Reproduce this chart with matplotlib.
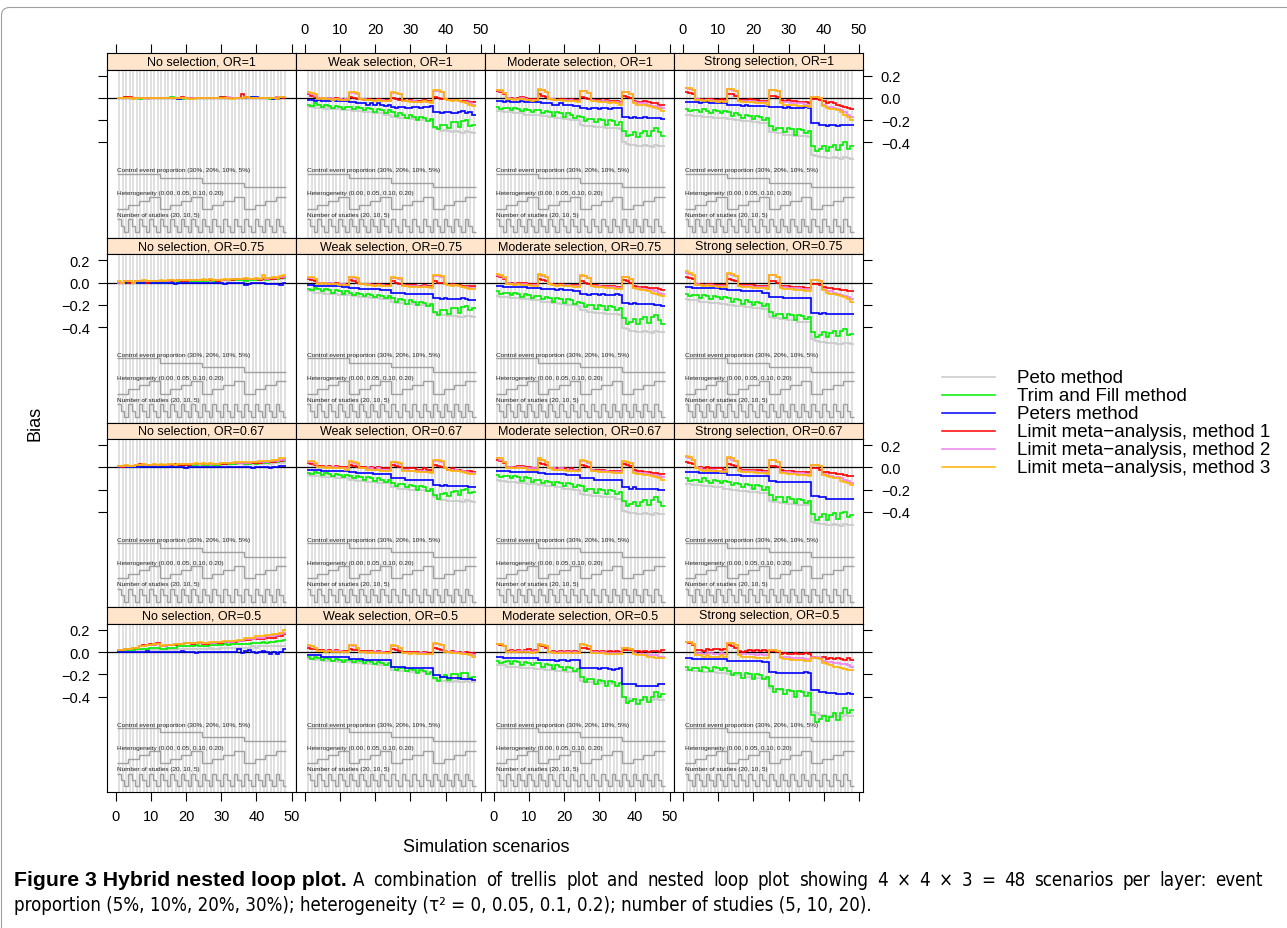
import numpy as np
import matplotlib.pyplot as plt
from matplotlib import font_manager
from matplotlib.patches import FancyBboxPatch
from matplotlib.lines import Line2D

plt.rcParams['font.family'] = ['Liberation Sans', 'DejaVu Sans']

# design of the simulation (nested loops)
selections = ['No selection', 'Weak selection', 'Moderate selection', 'Strong selection']
odds_ratios = ['1', '0.75', '0.67', '0.5']
event_prop = [30, 20, 10, 5]
heterogeneity = [0.00, 0.05, 0.10, 0.20]
n_studies = [20, 10, 5]

methods = ['Peto method', 'Trim and Fill method', 'Peters method',
           'Limit meta\u2212analysis, method 1', 'Limit meta\u2212analysis, method 2',
           'Limit meta\u2212analysis, method 3']
colors = ['#C8C8C8', '#00EE00', '#0000FF', '#FF0000', '#EE82EE', '#FFB400']

xticks = [0, 10, 20, 30, 40, 50]
yticks = [0.2, 0.0, -0.2, -0.4]

# bias in hundredths, one row per method (order as in methods), 48 scenarios each
no_or1 = [
    [0,0,0,0,0,0,0,0,-1,0,0,0, 0,0,0,0,-1,0,0,0,0,0,0,0, 0,0,0,0,0,0,0,-1,0,0,0,0, 0,0,0,0,0,-1,0,0,0,0,0,0],
    [0,0,1,0,0,0,-1,0,0,0,0,0, 0,0,0,1,0,0,-1,0,0,0,0,0, 0,0,0,0,0,1,0,0,0,0,0,0, 0,0,1,0,0,0,0,-1,0,0,0,0],
    [0,0,0,0,0,0,0,0,0,0,0,0, 0,0,0,0,0,-1,0,0,0,0,0,0, 0,0,0,0,0,0,0,0,0,0,0,0, 0,0,1,1,0,0,0,0,-1,-1,0,0],
    [0,0,1,1,0,0,0,0,0,0,0,0, 0,0,0,0,0,0,1,0,0,0,0,0, 0,0,0,0,0,1,1,0,0,0,0,3, 1,0,0,0,0,0,0,0,0,1,1,0],
    [0,0,0,0,0,0,0,0,-1,0,0,0, 0,0,0,0,0,0,0,0,0,0,0,0, 0,0,0,0,0,0,0,1,0,0,0,0, 0,0,0,0,0,0,0,0,0,1,1,1],
    [0,0,0,0,-1,0,0,0,0,0,0,0, 0,0,0,0,0,0,0,0,-1,-1,0,0, 0,0,0,0,0,0,0,0,-1,0,0,0, 1,0,0,0,0,0,0,0,0,-1,1,1],
]
weak_or1 = [
    [-8,-8,-9,-9,-9,-10,-9,-10,-10,-10,-11,-11, -11,-12,-12,-12,-13,-13,-13,-14,-14,-14,-15,-15, -17,-17,-18,-18,-18,-19,-19,-19,-20,-19,-20,-20, -27,-28,-30,-29,-30,-31,-30,-31,-32,-30,-31,-32],
    [-6,-7,-5,-6,-8,-6,-7,-9,-7,-8,-10,-8, -8,-10,-8,-9,-11,-9,-10,-13,-10,-11,-14,-11, -13,-16,-14,-15,-18,-15,-17,-20,-17,-18,-21,-19, -26,-28,-24,-24,-27,-22,-22,-26,-21,-20,-25,-24],
    [-2,-2,-3,-2,-3,-3,-3,-2,-3,-3,-3,-3, -4,-4,-5,-5,-5,-6,-5,-6,-5,-6,-7,-6, -8,-9,-8,-8,-9,-9,-8,-8,-9,-8,-8,-7, -13,-13,-14,-13,-13,-14,-14,-13,-12,-14,-13,-15],
    [3,2,1,0,0,-1,0,-1,0,-1,-1,-1, 1,0,-1,-1,-2,-1,-2,-2,-1,-2,-2,-3, 0,-1,-2,-2,-3,-2,-3,-3,-3,-2,-3,-3, 1,0,-1,-1,-2,-2,-2,-3,-3,-3,-4,-4],
    [4,3,2,0,0,-1,0,-1,-1,-1,-2,-1, 4,4,3,-1,-1,-2,-2,-2,-2,-2,-3,-3, 4,4,3,-3,-3,-3,-3,-4,-4,-3,-4,-4, 6,6,5,-1,-2,-2,-2,-3,-4,-4,-5,-6],
    [5,4,3,-1,0,-1,-1,-2,-1,-2,-2,-2, 5,5,4,-1,-2,-2,-2,-3,-2,-3,-3,-3, 5,4,3,-3,-3,-4,-4,-4,-4,-3,-4,-5, 7,7,5,-1,-2,-3,-2,-3,-4,-5,-6,-7],
]
mod_or1 = [
    [-12,-12,-13,-13,-13,-14,-14,-14,-15,-15,-15,-15, -15,-16,-16,-17,-17,-18,-18,-19,-19,-20,-20,-20, -24,-25,-25,-25,-26,-26,-26,-27,-27,-27,-27,-28, -40,-41,-42,-42,-43,-43,-42,-43,-44,-42,-43,-43],
    [-8,-10,-9,-9,-11,-9,-10,-12,-10,-11,-13,-11, -11,-14,-12,-13,-16,-13,-14,-17,-14,-15,-18,-16, -17,-21,-19,-19,-22,-19,-20,-24,-20,-21,-24,-22, -30,-34,-33,-31,-35,-32,-30,-34,-30,-27,-31,-34],
    [-3,-3,-4,-3,-4,-4,-4,-3,-4,-4,-4,-4, -4,-5,-5,-5,-6,-6,-5,-6,-6,-6,-7,-7, -9,-9,-10,-9,-9,-10,-9,-9,-10,-9,-9,-9, -17,-17,-18,-17,-18,-18,-17,-18,-18,-18,-18,-19],
    [6,5,3,0,0,-1,0,1,0,-1,-1,-1, 3,2,1,-1,-1,-2,-1,-1,-2,-1,-2,-2, 1,0,-1,-2,-2,-2,-3,-2,-3,-3,-3,-4, 2,1,0,-3,-4,-4,-3,-4,-5,-5,-6,-6],
    [7,6,4,0,-1,-1,-1,0,-1,-2,-2,-2, 7,7,5,-1,-1,-2,-2,-2,-2,-2,-3,-3, 6,6,4,-2,-3,-3,-3,-3,-4,-4,-4,-5, 5,5,3,-4,-5,-5,-5,-6,-7,-7,-8,-9],
    [7,7,4,-1,-1,-2,-1,-1,-2,-2,-3,-2, 8,7,5,-1,-2,-2,-2,-3,-3,-3,-3,-4, 6,6,4,-3,-3,-4,-4,-4,-5,-4,-5,-6, 5,5,3,-5,-6,-6,-6,-7,-8,-9,-10,-12],
]
strong_or1 = [
    [-15,-15,-16,-16,-16,-17,-17,-17,-18,-18,-18,-18, -19,-19,-20,-20,-21,-21,-21,-22,-22,-23,-23,-23, -31,-31,-32,-32,-33,-33,-33,-34,-34,-34,-34,-35, -51,-52,-53,-53,-54,-54,-53,-54,-55,-53,-54,-55],
    [-10,-12,-11,-11,-13,-10,-12,-14,-11,-12,-14,-12, -13,-16,-14,-15,-18,-15,-16,-19,-16,-17,-20,-18, -25,-29,-27,-27,-31,-27,-28,-33,-28,-29,-32,-30, -43,-48,-46,-43,-48,-44,-42,-47,-42,-40,-46,-43],
    [-4,-4,-4,-4,-5,-4,-4,-5,-5,-5,-5,-5, -6,-6,-6,-6,-7,-6,-7,-7,-7,-7,-7,-7, -8,-8,-8,-8,-9,-8,-9,-9,-9,-9,-8,-9, -23,-23,-24,-24,-25,-24,-24,-25,-24,-24,-24,-24],
    [5,4,3,-1,-1,-2,-1,-1,-2,-2,-1,-2, 3,3,2,-2,-2,-2,-1,-2,-2,-3,-3,-3, 2,2,1,-2,-3,-2,-3,-3,-4,-4,-4,-5, -1,-1,-2,-3,-5,-4,-5,-6,-7,-8,-9,-10],
    [9,8,7,-1,-2,-2,-2,-2,-3,-3,-3,-3, 8,7,6,-3,-3,-3,-3,-3,-4,-4,-4,-4, 7,7,6,-4,-4,-4,-5,-5,-5,-5,-6,-6, 1,1,0,-6,-8,-8,-9,-10,-11,-13,-15,-17],
    [9,9,7,-2,-2,-3,-2,-3,-3,-4,-3,-4, 8,8,6,-3,-4,-4,-4,-4,-5,-5,-5,-6, 7,7,6,-5,-6,-6,-6,-6,-7,-7,-7,-8, 1,1,0,-7,-9,-10,-10,-11,-13,-15,-17,-20],
]
no_or075 = [
    [0,0,0,0,0,0,1,0,0,1,1,1, 0,0,1,1,0,1,1,1,1,1,1,1, 1,1,1,1,1,1,2,1,2,2,2,2, 1,2,2,2,2,2,3,2,3,3,3,3],
    [0,0,0,0,0,0,1,0,0,1,0,1, 0,0,1,1,0,1,1,1,1,1,1,1, 1,1,2,1,1,2,2,2,2,2,2,2, 1,2,2,2,2,3,2,3,3,3,4,4],
    [0,0,0,0,0,0,0,0,0,0,0,0, 0,0,0,0,-1,0,0,0,0,0,0,0, 0,0,0,0,0,0,-1,0,0,0,0,0, -2,-1,0,0,0,0,-1,-1,-1,-1,-2,0],
    [0,0,1,0,0,1,1,1,0,1,1,1, 1,1,1,1,1,2,1,1,2,2,2,2, 2,2,2,2,1,2,2,2,2,3,3,3, 3,3,3,3,2,3,3,3,3,4,4,5],
    [0,0,1,1,0,1,1,1,1,1,1,1, 1,1,1,2,1,2,2,2,2,2,2,2, 2,2,3,2,2,2,2,2,3,3,3,3, 3,3,3,3,3,4,3,4,4,4,5,5],
    [1,0,1,1,0,1,1,2,1,1,1,1, 2,1,2,2,1,2,2,2,2,2,2,2, 3,2,3,2,2,2,3,2,3,3,3,3, 4,3,3,4,3,7,4,4,5,4,6,7],
]
weak_or075 = [
    [-8,-8,-9,-9,-9,-10,-10,-10,-10,-11,-11,-11, -11,-12,-12,-13,-13,-13,-14,-14,-14,-15,-15,-15, -17,-18,-18,-18,-19,-19,-19,-20,-20,-20,-20,-21, -27,-28,-29,-29,-30,-30,-30,-31,-31,-30,-30,-31],
    [-6,-7,-5,-6,-8,-6,-7,-9,-7,-8,-10,-8, -9,-11,-9,-10,-12,-10,-11,-13,-11,-12,-14,-12, -14,-17,-15,-16,-19,-16,-17,-20,-17,-18,-21,-19, -26,-29,-25,-25,-28,-23,-23,-27,-22,-21,-25,-23],
    [-2,-2,-3,-3,-3,-3,-3,-3,-3,-3,-4,-4, -5,-5,-5,-6,-6,-6,-6,-6,-6,-7,-7,-7, -9,-9,-9,-9,-10,-10,-10,-10,-10,-10,-10,-10, -14,-14,-15,-14,-15,-15,-15,-15,-14,-15,-16,-16],
    [3,2,1,0,0,-1,0,-1,0,-1,-1,-1, 2,1,0,-1,-1,-1,-1,-2,-1,-2,-2,-2, 1,0,-1,-2,-2,-2,-2,-3,-3,-2,-3,-3, 1,0,0,-1,-2,-1,-2,-2,-3,-3,-3,-3],
    [4,4,3,0,0,-1,0,-1,-1,-1,-1,-2, 5,4,3,-1,-1,-1,-2,-2,-2,-2,-3,-3, 4,4,3,-2,-3,-3,-3,-3,-4,-3,-4,-4, 6,6,5,-1,-2,-2,-2,-3,-4,-4,-5,-5],
    [5,5,3,-1,0,-1,-1,-1,-1,-2,-2,-2, 5,5,4,-1,-1,-2,-2,-3,-2,-3,-3,-3, 5,4,4,-3,-3,-4,-4,-4,-4,-4,-4,-5, 7,7,6,-1,-2,-3,-2,-3,-4,-5,-6,-6],
]
mod_or075 = [
    [-12,-13,-13,-13,-14,-14,-14,-15,-15,-15,-16,-16, -16,-17,-17,-17,-18,-18,-19,-19,-20,-20,-20,-21, -25,-25,-26,-26,-27,-27,-27,-28,-28,-28,-28,-29, -41,-42,-43,-43,-44,-44,-43,-44,-45,-43,-44,-44],
    [-8,-10,-9,-9,-11,-9,-10,-13,-10,-11,-14,-12, -12,-15,-13,-14,-17,-14,-15,-18,-15,-16,-19,-17, -18,-22,-20,-20,-24,-20,-21,-25,-21,-22,-25,-23, -32,-37,-35,-33,-37,-33,-31,-36,-31,-29,-34,-37],
    [-3,-3,-4,-4,-4,-4,-4,-4,-4,-5,-5,-5, -5,-6,-6,-6,-6,-7,-6,-7,-7,-7,-8,-8, -10,-10,-11,-10,-10,-11,-10,-11,-11,-11,-10,-11, -18,-18,-19,-18,-19,-19,-19,-19,-19,-20,-20,-21],
    [6,5,3,0,0,-1,0,0,0,-1,-1,-1, 3,2,1,-1,-1,-2,-1,-2,-2,-2,-2,-2, 1,0,-1,-2,-2,-3,-3,-3,-3,-3,-4,-4, 2,1,0,-3,-4,-4,-4,-5,-5,-5,-6,-7],
    [7,6,4,0,-1,-1,-1,-1,-1,-2,-2,-2, 7,6,5,-1,-2,-2,-2,-2,-2,-3,-3,-3, 6,6,4,-3,-3,-3,-4,-4,-4,-4,-5,-5, 5,5,3,-5,-5,-6,-6,-7,-7,-8,-9,-10],
    [8,7,5,-1,-1,-2,-1,-2,-2,-2,-3,-3, 8,7,5,-1,-2,-3,-2,-3,-3,-3,-4,-4, 7,6,4,-3,-4,-4,-4,-5,-5,-5,-6,-6, 5,5,3,-5,-6,-7,-7,-8,-9,-10,-11,-12],
]
strong_or075 = [
    [-15,-16,-16,-16,-17,-17,-17,-18,-18,-18,-19,-19, -20,-20,-21,-21,-21,-22,-22,-23,-23,-23,-24,-24, -31,-32,-32,-33,-33,-34,-34,-34,-35,-35,-35,-35, -51,-52,-53,-53,-54,-54,-54,-55,-55,-54,-54,-55],
    [-10,-12,-11,-11,-14,-11,-12,-15,-12,-13,-15,-13, -14,-17,-15,-16,-19,-16,-17,-20,-17,-18,-21,-19, -26,-30,-28,-28,-32,-28,-29,-34,-29,-30,-33,-31, -44,-49,-47,-44,-49,-45,-43,-48,-43,-42,-47,-46],
    [-4,-4,-5,-5,-5,-5,-5,-5,-5,-5,-6,-6, -7,-7,-7,-7,-8,-8,-8,-8,-8,-8,-9,-9, -13,-13,-13,-13,-14,-14,-14,-14,-14,-14,-14,-14, -27,-27,-28,-27,-28,-28,-28,-28,-28,-28,-28,-28],
    [5,4,3,-1,-1,-2,-1,-1,-2,-2,-2,-2, 3,2,1,-2,-2,-2,-2,-2,-3,-3,-3,-3, 1,1,0,-3,-3,-3,-4,-4,-4,-4,-5,-5, -1,-1,-2,-4,-5,-5,-6,-6,-7,-7,-8,-8],
    [9,8,7,-1,-2,-2,-2,-2,-3,-3,-3,-3, 8,7,6,-3,-3,-3,-3,-4,-4,-4,-4,-4, 7,7,5,-4,-4,-5,-5,-5,-5,-6,-6,-6, 2,2,1,-6,-8,-8,-9,-10,-11,-12,-13,-15],
    [10,9,7,-2,-2,-3,-2,-3,-3,-4,-4,-4, 9,8,6,-3,-4,-4,-4,-5,-5,-5,-5,-6, 7,7,5,-5,-6,-6,-6,-7,-7,-7,-8,-8, 2,2,1,-7,-9,-10,-10,-11,-12,-13,-15,-17],
]
no_or067 = [
    [0,0,0,0,1,0,1,1,1,1,1,1, 1,1,1,1,1,1,2,1,2,2,2,2, 2,2,2,2,2,2,3,2,3,3,3,3, 2,3,3,3,3,3,4,3,4,4,4,4],
    [0,0,1,0,1,1,1,1,1,1,1,2, 1,1,2,1,1,2,2,2,2,2,2,3, 2,2,3,2,2,3,3,3,3,3,4,4, 3,3,4,3,4,4,4,5,5,5,6,6],
    [0,0,0,0,0,0,0,0,0,0,0,0, 0,0,0,0,0,0,0,-1,0,0,0,0, 0,0,0,0,0,0,0,0,0,0,0,0, 0,0,-1,0,0,0,0,-1,0,0,1,1],
    [1,0,1,1,1,2,3,2,2,2,2,2, 2,2,2,2,3,2,2,2,2,3,3,3, 3,3,3,3,3,3,3,4,4,4,4,4, 4,4,4,4,4,5,5,5,5,6,6,7],
    [1,1,1,1,1,2,2,2,2,2,2,2, 2,2,2,3,2,3,3,3,3,3,3,3, 3,3,3,3,3,4,4,4,4,4,4,4, 4,4,5,5,5,5,5,6,6,6,7,7],
    [1,1,2,1,1,2,2,3,2,2,3,2, 3,2,3,3,2,3,3,3,3,3,4,3, 4,3,4,3,3,4,4,4,4,5,5,5, 5,5,5,5,6,6,6,6,7,7,8,8],
]
weak_or067 = [
    [-7,-8,-8,-8,-9,-9,-9,-9,-10,-10,-10,-10, -11,-11,-12,-12,-12,-13,-13,-13,-14,-14,-14,-14, -18,-18,-19,-19,-19,-20,-20,-20,-20,-20,-21,-21, -27,-28,-29,-29,-30,-30,-30,-30,-31,-29,-30,-31],
    [-5,-6,-4,-5,-7,-5,-6,-8,-6,-7,-9,-7, -8,-10,-8,-9,-11,-9,-10,-12,-10,-11,-13,-11, -14,-17,-15,-15,-18,-16,-17,-20,-17,-18,-21,-19, -25,-28,-24,-23,-26,-22,-21,-25,-20,-19,-23,-22],
    [-2,-2,-2,-2,-3,-3,-3,-3,-3,-3,-3,-3, -4,-4,-5,-5,-5,-5,-5,-6,-6,-6,-6,-6, -10,-10,-10,-10,-11,-11,-11,-11,-11,-11,-11,-11, -16,-16,-17,-16,-17,-17,-17,-17,-17,-17,-18,-18],
    [4,3,2,1,1,0,1,0,1,0,0,0, 2,1,0,0,0,-1,0,-1,0,-1,-1,-1, 2,1,0,-1,-1,-1,-1,-2,-2,-1,-2,-2, 2,1,0,-1,-2,-1,-2,-2,-3,-3,-3,-4],
    [5,5,3,0,0,0,0,0,0,-1,-1,-1, 5,4,3,-1,-1,-1,-1,-2,-1,-2,-2,-2, 5,4,3,-2,-2,-3,-3,-3,-3,-3,-4,-4, 6,6,5,-1,-2,-2,-2,-3,-3,-4,-5,-5],
    [6,6,4,0,0,-1,0,-1,-1,-1,-1,-2, 6,5,4,-1,-1,-2,-2,-2,-2,-3,-3,-3, 5,5,4,-3,-3,-3,-3,-4,-4,-4,-4,-5, 7,7,6,-1,-2,-3,-3,-3,-4,-5,-6,-6],
]
mod_or067 = [
    [-11,-12,-12,-13,-13,-13,-14,-14,-14,-15,-15,-15, -16,-16,-17,-17,-17,-18,-18,-19,-19,-19,-20,-20, -24,-25,-25,-26,-26,-26,-27,-27,-27,-27,-28,-28, -39,-40,-41,-41,-42,-42,-41,-42,-43,-41,-42,-42],
    [-7,-9,-8,-8,-10,-8,-9,-12,-9,-10,-13,-11, -11,-14,-12,-13,-16,-13,-14,-17,-14,-15,-18,-16, -17,-21,-19,-19,-23,-19,-20,-24,-20,-21,-24,-22, -30,-35,-33,-31,-35,-31,-29,-34,-29,-27,-31,-35],
    [-3,-3,-3,-3,-4,-4,-4,-4,-4,-4,-4,-4, -5,-5,-6,-6,-6,-6,-6,-6,-7,-7,-7,-7, -10,-10,-10,-10,-11,-11,-11,-11,-11,-11,-11,-11, -18,-18,-19,-18,-19,-19,-19,-19,-19,-19,-20,-20],
    [7,6,4,0,0,0,1,1,0,0,-1,-1, 4,3,2,-1,-1,-1,-1,-1,-2,-1,-2,-2, 2,1,0,-2,-2,-2,-2,-3,-3,-3,-3,-3, 3,2,1,-2,-3,-3,-4,-4,-5,-5,-6,-6],
    [8,7,5,0,0,-1,0,0,-1,-1,-1,-1, 7,7,5,-1,-1,-2,-1,-2,-2,-2,-2,-3, 6,6,4,-2,-3,-3,-3,-3,-4,-4,-4,-4, 5,5,4,-4,-5,-5,-5,-6,-7,-7,-8,-9],
    [8,8,5,-1,-1,-1,-1,-1,-1,-2,-2,-2, 8,7,5,-1,-2,-2,-2,-2,-3,-3,-3,-3, 7,6,5,-3,-3,-4,-4,-4,-4,-5,-5,-5, 6,5,4,-5,-6,-6,-7,-7,-8,-9,-10,-11],
]
strong_or067 = [
    [-15,-15,-16,-16,-16,-17,-17,-17,-18,-18,-18,-19, -19,-20,-20,-21,-21,-21,-22,-22,-22,-23,-23,-23, -30,-31,-31,-32,-32,-33,-33,-33,-34,-34,-34,-34, -49,-50,-51,-51,-52,-52,-51,-52,-53,-51,-52,-52],
    [-10,-12,-11,-11,-13,-10,-12,-14,-11,-12,-14,-12, -13,-16,-14,-15,-18,-15,-16,-19,-16,-17,-20,-18, -25,-29,-27,-27,-31,-27,-28,-32,-28,-29,-32,-30, -42,-47,-45,-42,-47,-43,-41,-46,-41,-40,-45,-43],
    [-4,-4,-4,-4,-5,-5,-5,-5,-5,-5,-5,-5, -7,-7,-7,-7,-8,-8,-8,-8,-8,-8,-8,-8, -12,-12,-13,-13,-13,-13,-13,-13,-13,-13,-13,-13, -26,-26,-27,-27,-28,-28,-28,-28,-28,-28,-28,-28],
    [5,4,3,-1,0,-1,0,-1,-1,-1,-1,-2, 3,2,1,-1,-2,-2,-2,-2,-2,-2,-3,-3, 1,1,0,-2,-3,-3,-3,-4,-4,-4,-4,-4, -1,-1,-2,-4,-4,-5,-5,-6,-6,-7,-8,-8],
    [9,8,7,-1,-1,-2,-2,-2,-2,-3,-3,-3, 8,7,6,-2,-3,-3,-3,-3,-4,-4,-4,-4, 7,7,5,-4,-4,-4,-5,-5,-5,-5,-6,-6, 2,2,1,-6,-7,-8,-9,-9,-10,-11,-12,-14],
    [10,9,7,-1,-2,-3,-2,-3,-3,-3,-4,-4, 9,8,6,-3,-4,-4,-4,-4,-5,-5,-5,-6, 7,7,5,-5,-5,-6,-6,-6,-7,-7,-7,-8, 2,2,1,-7,-8,-9,-10,-10,-12,-13,-14,-16],
]
no_or05 = [
    [1,1,1,1,1,2,2,2,2,2,2,2, 2,2,2,3,2,3,3,3,3,3,3,3, 3,3,4,3,3,4,4,4,4,4,4,4, 4,4,5,4,5,5,5,5,5,5,5,5],
    [1,1,2,2,2,3,3,3,3,4,4,4, 3,3,4,4,4,5,5,5,5,5,6,5, 5,5,6,6,6,6,7,6,7,7,7,7, 7,7,8,8,8,9,8,9,9,10,10,11],
    [0,0,0,0,0,0,0,0,1,0,0,0, 0,0,0,0,0,0,1,0,0,0,-1,0, 0,0,0,0,0,0,0,0,0,0,3,-1, 1,2,0,-1,0,1,0,-2,0,-2,0,3],
    [2,2,3,3,4,4,5,6,6,7,6,8, 5,5,6,6,6,7,7,8,8,7,8,8, 7,7,8,8,8,8,9,9,9,9,10,10, 11,11,12,12,12,12,13,13,13,14,14,16],
    [2,2,3,3,4,4,5,5,6,6,6,7, 5,5,6,6,7,7,7,8,8,8,8,8, 8,8,8,8,9,9,9,9,9,10,10,10, 12,12,12,13,13,13,14,14,14,15,16,17],
    [2,2,3,3,4,4,5,5,6,6,7,7, 5,6,6,6,7,7,7,8,8,8,8,9, 8,8,9,9,9,9,10,10,10,10,11,11, 13,13,13,14,14,14,15,15,16,16,17,20],
]
weak_or05 = [
    [-6,-6,-7,-7,-7,-8,-8,-8,-8,-9,-9,-9, -9,-10,-10,-10,-11,-11,-11,-11,-12,-12,-12,-12, -16,-16,-17,-17,-17,-18,-18,-18,-18,-18,-19,-19, -24,-25,-26,-26,-27,-27,-26,-27,-27,-26,-27,-27],
    [-4,-6,-4,-5,-7,-5,-6,-8,-6,-7,-9,-7, -7,-9,-7,-8,-10,-8,-9,-11,-9,-10,-12,-10, -13,-16,-14,-14,-17,-15,-16,-19,-16,-17,-20,-18, -23,-26,-22,-21,-25,-20,-20,-24,-19,-19,-23,-22],
    [-3,-3,-3,-3,-4,-4,-4,-4,-4,-4,-4,-4, -6,-6,-6,-6,-7,-7,-7,-7,-7,-7,-7,-7, -13,-13,-13,-13,-14,-14,-14,-14,-14,-14,-14,-14, -21,-21,-22,-22,-23,-23,-23,-23,-24,-24,-24,-25],
    [4,3,3,2,2,1,2,1,2,1,1,1, 3,2,2,1,1,1,1,0,1,0,0,0, 3,2,1,0,0,0,0,0,-1,0,-1,-1, 4,3,2,1,0,1,0,0,-1,0,-1,-1],
    [5,5,4,1,1,1,1,1,1,1,0,0, 6,5,4,0,0,0,0,0,0,0,-1,-1, 5,5,4,-1,-1,-1,-1,-1,-1,-1,-2,-2, 7,7,6,1,0,0,0,-1,-1,-2,-2,-3],
    [6,5,4,1,1,0,1,0,0,0,0,0, 6,6,4,0,0,-1,0,-1,-1,-1,-1,-1, 6,5,4,-1,-1,-2,-1,-2,-2,-2,-2,-2, 8,7,6,0,0,-1,-1,-1,-2,-2,-3,-4],
]
mod_or05 = [
    [-12,-12,-12,-13,-13,-13,-13,-14,-14,-14,-14,-15, -15,-15,-16,-16,-16,-17,-17,-17,-18,-18,-18,-18, -26,-26,-27,-27,-27,-28,-28,-28,-28,-29,-29,-29, -40,-41,-42,-42,-43,-43,-42,-43,-43,-42,-43,-43],
    [-8,-10,-9,-8,-11,-8,-9,-12,-9,-10,-12,-10, -10,-13,-11,-12,-15,-12,-13,-16,-13,-14,-17,-15, -22,-27,-24,-24,-29,-25,-26,-30,-26,-27,-30,-28, -40,-46,-44,-42,-47,-43,-40,-45,-40,-36,-40,-38],
    [-4,-4,-5,-5,-5,-5,-5,-5,-5,-5,-5,-5, -7,-7,-7,-7,-7,-8,-7,-7,-8,-7,-7,-7, -14,-14,-14,-14,-14,-15,-14,-14,-15,-16,-15,-14, -29,-29,-29,-29,-30,-30,-30,-30,-30,-30,-29,-29],
    [7,6,5,1,2,1,2,1,2,3,1,2, 6,5,4,0,1,0,1,0,1,0,1,0, 4,4,3,1,1,0,1,0,1,0,1,0, 2,2,2,1,1,0,1,0,1,1,0,2],
    [7,7,5,0,1,0,1,1,1,1,0,1, 7,6,5,0,0,-1,0,-1,0,-1,0,-1, 7,6,5,0,0,-1,0,-1,-1,-1,-1,-1, 4,4,3,-1,-2,-2,-2,-3,-3,-3,-4,-4],
    [7,7,5,0,0,0,0,0,0,0,-1,0, 7,6,5,0,-1,-1,-1,-1,-1,-1,-1,-1, 7,6,5,-1,-1,-1,-1,-2,-2,-2,-2,-2, 4,4,3,-2,-3,-3,-3,-4,-4,-5,-5,-5],
]
strong_or05 = [
    [-16,-16,-17,-17,-17,-18,-18,-18,-18,-19,-19,-19, -20,-20,-21,-21,-21,-22,-22,-22,-23,-23,-23,-23, -32,-33,-33,-34,-34,-34,-35,-35,-35,-35,-36,-36, -54,-55,-56,-56,-57,-57,-56,-57,-58,-56,-57,-57],
    [-13,-16,-14,-14,-17,-13,-14,-17,-13,-14,-16,-14, -17,-21,-19,-19,-23,-19,-20,-24,-20,-21,-24,-22, -30,-36,-33,-33,-38,-34,-35,-40,-35,-36,-39,-37, -56,-63,-60,-57,-62,-58,-55,-61,-55,-50,-55,-52],
    [-5,-5,-6,-6,-6,-6,-6,-6,-6,-6,-6,-6, -8,-8,-8,-8,-8,-8,-8,-8,-8,-8,-9,-9, -18,-18,-19,-19,-19,-19,-19,-19,-19,-19,-18,-19, -34,-34,-36,-36,-37,-37,-37,-38,-38,-38,-37,-38],
    [9,8,6,2,2,1,3,2,3,3,2,3, 6,5,4,1,0,1,2,1,2,1,2,1, 1,1,0,-2,-1,-2,-2,-1,-2,-2,-1,-2, -4,-5,-5,-4,-6,-5,-6,-5,-6,-7,-5,-7],
    [9,9,7,-1,-1,-2,-1,-1,-2,-2,-1,-2, 8,8,6,-2,-2,-2,-2,-2,-3,-2,-3,-3, 2,2,1,-4,-4,-4,-5,-5,-5,-5,-6,-6, -4,-4,-5,-8,-9,-9,-10,-10,-11,-11,-12,-13],
    [9,9,7,-3,-3,-4,-3,-4,-4,-4,-3,-4, 8,8,6,-3,-4,-4,-4,-4,-5,-5,-5,-5, 2,2,1,-5,-6,-6,-7,-7,-7,-7,-8,-8, -5,-5,-6,-10,-11,-12,-13,-13,-14,-15,-16,-16],
]

panels = [
    [no_or1, weak_or1, mod_or1, strong_or1],
    [no_or075, weak_or075, mod_or075, strong_or075],
    [no_or067, weak_or067, mod_or067, strong_or067],
    [no_or05, weak_or05, mod_or05, strong_or05],
]

# ---- layout (pixels) ----
W, H = 1287, 929
fig = plt.figure(figsize=(W / 100, H / 100), dpi=100)

col_left = [107, 296.1, 485.2, 674.3]
col_w = 189.1
top0 = 54
row_pitch = 184.75
strip_h = 16.5
panel_h = row_pitch - strip_h
xlim = (-2.47, 51.25)
ylim = (-1.255, 0.254)


def rect(x, y, w, h):
    return [x / W, 1 - (y + h) / H, w / W, h / H]


def fmt(v):
    return f'{v:.1f}'.replace('-', '\u2212')


n_scen = len(event_prop) * len(heterogeneity) * len(n_studies)
scen = np.arange(1, n_scen + 1)
edges = np.arange(n_scen + 1) + 0.5

# nested loop indicator lines, from the factor levels
ep = np.repeat(event_prop, len(heterogeneity) * len(n_studies))
het = np.tile(np.repeat(heterogeneity, len(n_studies)), len(event_prop))
ns = np.tile(n_studies, len(event_prop) * len(heterogeneity))
ep_rank = np.searchsorted(np.sort(event_prop), ep)
het_rank = np.searchsorted(np.sort(heterogeneity), het)
ns_rank = np.searchsorted(np.sort(n_studies), ns)
loops = [
    ('Control event proportion (30%, 20%, 10%, 5%)', -0.80 + 0.04 * ep_rank, -0.647),
    ('Heterogeneity (0.00, 0.05, 0.10, 0.20)', -0.995 + 0.036 * het_rank, -0.853),
    ('Number of studies (20, 10, 5)', -1.205 + 0.057 * ns_rank, -1.046),
]

for r, orr in enumerate(odds_ratios):
    for c, sel in enumerate(selections):
        ytop = top0 + r * row_pitch
        sax = fig.add_axes(rect(col_left[c], ytop, col_w, strip_h))
        ax = fig.add_axes(rect(col_left[c], ytop + strip_h, col_w, panel_h))

        sax.set_facecolor('#FFE5CC')
        sax.set_xlim(xlim)
        sax.set_ylim(0, 1)
        sax.set_yticks([])
        sax.text(0.5, 0.5, f'{sel}, OR={orr}', transform=sax.transAxes,
                 ha='center', va='center', fontsize=9)

        ax.set_xlim(xlim)
        ax.set_ylim(ylim)
        ax.vlines(scen, ylim[0], ylim[1], color='#DDDDDD', lw=1.3, zorder=0.5)
        for lab, yl, yt in loops:
            ax.stairs(yl, edges, baseline=None, color='#A0A0A0', lw=1.0, zorder=1)
            ax.text(edges[0], yt, lab, fontsize=4.6, va='center', ha='left', color='#222222')
        ax.axhline(0, color='black', lw=0.9, zorder=1.5)
        for vals, col in zip(panels[r][c], colors):
            assert len(vals) == n_scen, (sel, orr, len(vals))
            ax.stairs(np.array(vals) / 100, edges, baseline=None, color=col, lw=1.2, zorder=2)

        for a in (ax, sax):
            for sp in a.spines.values():
                sp.set_linewidth(0.8)
            a.tick_params(direction='out', length=6.5, width=0.8, labelsize=10.5, pad=6,
                          top=False, bottom=False, left=False, right=False,
                          labeltop=False, labelbottom=False, labelleft=False, labelright=False)
        ax.set_xticks(xticks)
        ax.set_xticklabels([str(t) for t in xticks])
        ax.set_yticks(yticks)
        ax.set_yticklabels([fmt(t) for t in yticks])
        ax.tick_params(bottom=(r == 3), labelbottom=(r == 3 and c % 2 == 0),
                       left=(c == 0), labelleft=(c == 0 and r % 2 == 1),
                       right=(c == 3), labelright=(c == 3 and r % 2 == 0))
        sax.set_xticks(xticks)
        sax.set_xticklabels([str(t) for t in xticks])
        sax.tick_params(top=(r == 0), labeltop=(r == 0 and c % 2 == 1))

fig.text(35 / W, 1 - 423 / H, 'Bias', rotation=90, ha='center', va='center', fontsize=13)
fig.text(486 / W, 1 - 848 / H, 'Simulation scenarios', ha='center', va='center', fontsize=13)

# legend
for i, (m, col) in enumerate(zip(methods, colors)):
    yy = 1 - (378.3 + 18.0 * i) / H
    fig.add_artist(Line2D([941.7 / W, 995 / W], [yy, yy], color=col, lw=1.1,
                          transform=fig.transFigure))
    fig.text(1016.7 / W, yy, m, ha='left', va='center', fontsize=13.5)

# caption: bold lead-in, regular text (condensed face if one is installed)
cond = [f for f in font_manager.fontManager.ttflist
        if f.stretch in ('condensed', 'semi-condensed') and f.style == 'normal'
        and f.weight in (400, 'normal', 'regular') and 'Mono' not in f.name
        and 'Sans' in f.name and 'CJK' not in f.name]
cap_reg = [cond[0].name] if cond else ['Liberation Sans']
cap_stretch = cond[0].stretch if cond else 'normal'
cap_bold = 'Figure 3 Hybrid nested loop plot.'
cap_rest = ('A combination of trellis plot and nested loop plot showing 4 \u00d7 4 \u00d7 3 = 48 '
            'scenarios per layer: event')
cap_line2 = ('proportion (5%, 10%, 20%, 30%); heterogeneity (\u03c4\u00b2 = 0, 0.05, 0.1, 0.2); '
             'number of studies (5, 10, 20).')
renderer = fig.canvas.get_renderer()


def text_w(txt, fs, **kw):
    probe = fig.text(0, 0, txt, fontsize=fs, **kw)
    w = probe.get_window_extent(renderer).width
    probe.remove()
    return w


reg_kw = dict(family=cap_reg, stretch=cap_stretch)
fs_b = 12 * 330 / text_w(cap_bold, 12, weight='bold')
fs_r = 12 * 858 / text_w(cap_line2, 12, **reg_kw)
y1, y2 = 1 - 881 / H, 1 - 906 / H
t1 = fig.text(14 / W, y1, cap_bold, fontsize=fs_b, weight='bold', va='center')
x_start = t1.get_window_extent(renderer).x1 + 6
words = cap_rest.split(' ')
wws = [text_w(w, fs_r, **reg_kw) for w in words]
gap = (1263 - x_start - sum(wws)) / (len(words) - 1)
xw = x_start
for w, ww in zip(words, wws):
    fig.text(xw / W, y1, w, fontsize=fs_r, va='center', **reg_kw)
    xw += ww + gap
fig.text(14 / W, y2, cap_line2, fontsize=fs_r, va='center', **reg_kw)

# outer frame
frame = FancyBboxPatch((0.015, -0.3), 13.2, (929 - 8.5) / 100 + 0.3,
                       boxstyle='round,pad=0,rounding_size=0.08',
                       transform=fig.dpi_scale_trans, fill=False,
                       edgecolor='#A0A0A0', lw=0.8, clip_on=False)
fig.add_artist(frame)

fig.savefig('out.png', dpi=100)
